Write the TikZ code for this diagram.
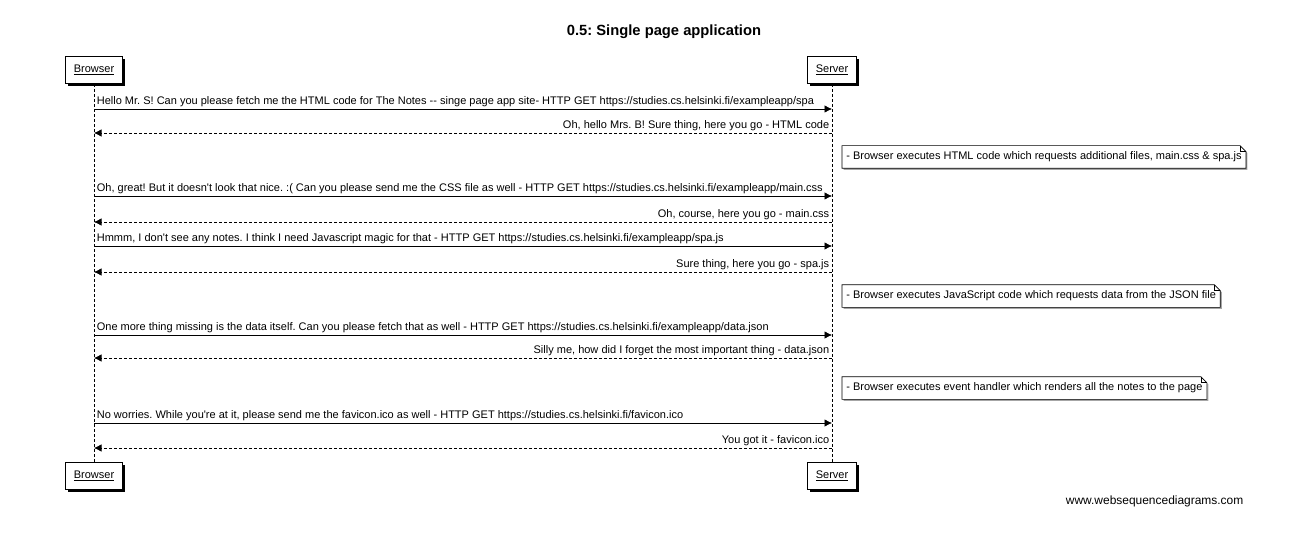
\documentclass[tikz,border=0pt]{standalone}
\usepackage{fontspec}
\newfontfamily\seqfont{Liberation Sans}
\usetikzlibrary{arrows.meta,shadows}
\frenchspacing
\newcommand{\drawnote}[1]{%
  \draw[fill=white,drop shadow={shadow xshift=1.5bp,shadow yshift=-1.5bp,fill=black!35,opacity=1}]
    (#1.north west) -- ([xshift=-6bp]#1.north east) -- ([yshift=-6bp]#1.north east)
    -- (#1.south east) -- (#1.south west) -- cycle;
  \draw ([xshift=-6bp]#1.north east) |- ([yshift=-6bp]#1.north east);}
\begin{document}
\begin{tikzpicture}[>={Latex[length=7.5bp,width=7.5bp]},x=1bp,y=-1bp,line width=0.7bp,
  txt/.style={font=\seqfont\fontsize{11.05}{13}\selectfont},
  actor/.style={txt,draw,fill=white,minimum height=27bp,inner xsep=8bp,
    drop shadow={shadow xshift=2.5bp,shadow yshift=-2.5bp,fill=black,opacity=1}},
  notetext/.style={txt,anchor=west,inner xsep=4bp,minimum height=22bp},
  lifeline/.style={dash pattern=on 3bp off 2bp},
  request/.style={->},
  reply/.style={->,dash pattern=on 3bp off 2bp},
  lbl/.style={txt,inner xsep=2.5bp,inner ysep=1.5bp}]
\useasboundingbox (0,0) rectangle (1311,538);
%%
\node (title) at (664,32) [font=\seqfont\fontsize{14.8}{16}\selectfont\bfseries] {0.5: Single page application};
\node (browser_top) at (94,70) [actor] {\underline{Browser}};
\node (server_top) at (832,70) [actor] {\underline{Server}};
\node (browser_bot) at (94,476) [actor] {\underline{Browser}};
\node (server_bot) at (832,476) [actor] {\underline{Server}};
\draw [lifeline] (browser_top) -- (browser_bot);
\draw [lifeline] (server_top) -- (server_bot);
%
\coordinate (b_1) at (94,109);  \coordinate (s_1) at (832,109);
\coordinate (b_2) at (94,133);  \coordinate (s_2) at (832,133);
\coordinate (b_3) at (94,196);  \coordinate (s_3) at (832,196);
\coordinate (b_4) at (94,222);  \coordinate (s_4) at (832,222);
\coordinate (b_5) at (94,246);  \coordinate (s_5) at (832,246);
\coordinate (b_6) at (94,272);  \coordinate (s_6) at (832,272);
\coordinate (b_7) at (94,335);  \coordinate (s_7) at (832,335);
\coordinate (b_8) at (94,358);  \coordinate (s_8) at (832,358);
\coordinate (b_9) at (94,423);  \coordinate (s_9) at (832,423);
\coordinate (b_10) at (94,448); \coordinate (s_10) at (832,448);
%
\draw [request] (b_1) -- (s_1) node [lbl,pos=0,above right] {Hello Mr. S! Can you please fetch me the HTML code for The Notes -- singe page app site- HTTP GET https://studies.cs.helsinki.fi/exampleapp/spa};
\draw [reply] (s_2) -- (b_2) node [lbl,pos=0,above left] {Oh, hello Mrs. B! Sure thing, here you go - HTML code};
\node (note_1) at (842,157) [notetext] {- Browser executes HTML code which requests additional files, main.css \& spa.js};
\drawnote{note_1}
\node at (note_1) [notetext,anchor=center] {- Browser executes HTML code which requests additional files, main.css \& spa.js};
\draw [request] (b_3) -- (s_3) node [lbl,pos=0,above right] {Oh, great! But it doesn't look that nice. :( Can you please send me the CSS file as well - HTTP GET https://studies.cs.helsinki.fi/exampleapp/main.css};
\draw [reply] (s_4) -- (b_4) node [lbl,pos=0,above left] {Oh, course, here you go - main.css};
\draw [request] (b_5) -- (s_5) node [lbl,pos=0,above right] {Hmmm, I don't see any notes. I think I need Javascript magic for that - HTTP GET https://studies.cs.helsinki.fi/exampleapp/spa.js};
\draw [reply] (s_6) -- (b_6) node [lbl,pos=0,above left] {Sure thing, here you go - spa.js};
\node (note_2) at (842,296) [notetext] {- Browser executes JavaScript code which requests data from the JSON file};
\drawnote{note_2}
\node at (note_2) [notetext,anchor=center] {- Browser executes JavaScript code which requests data from the JSON file};
\draw [request] (b_7) -- (s_7) node [lbl,pos=0,above right] {One more thing missing is the data itself. Can you please fetch that as well - HTTP GET https://studies.cs.helsinki.fi/exampleapp/data.json};
\draw [reply] (s_8) -- (b_8) node [lbl,pos=0,above left] {Silly me, how did I forget the most important thing - data.json};
\node (note_3) at (842,388) [notetext] {- Browser executes event handler which renders all the notes to the page};
\drawnote{note_3}
\node at (note_3) [notetext,anchor=center] {- Browser executes event handler which renders all the notes to the page};
\draw [request] (b_9) -- (s_9) node [lbl,pos=0,above right] {No worries. While you're at it, please send me the favicon.ico as well - HTTP GET https://studies.cs.helsinki.fi/favicon.ico};
\draw [reply] (s_10) -- (b_10) node [lbl,pos=0,above left] {You got it - favicon.ico};
%
\node (footer) at (1247,501) [font=\seqfont\fontsize{12}{14}\selectfont,anchor=east] {www.websequencediagrams.com};
\end{tikzpicture}
\end{document}
